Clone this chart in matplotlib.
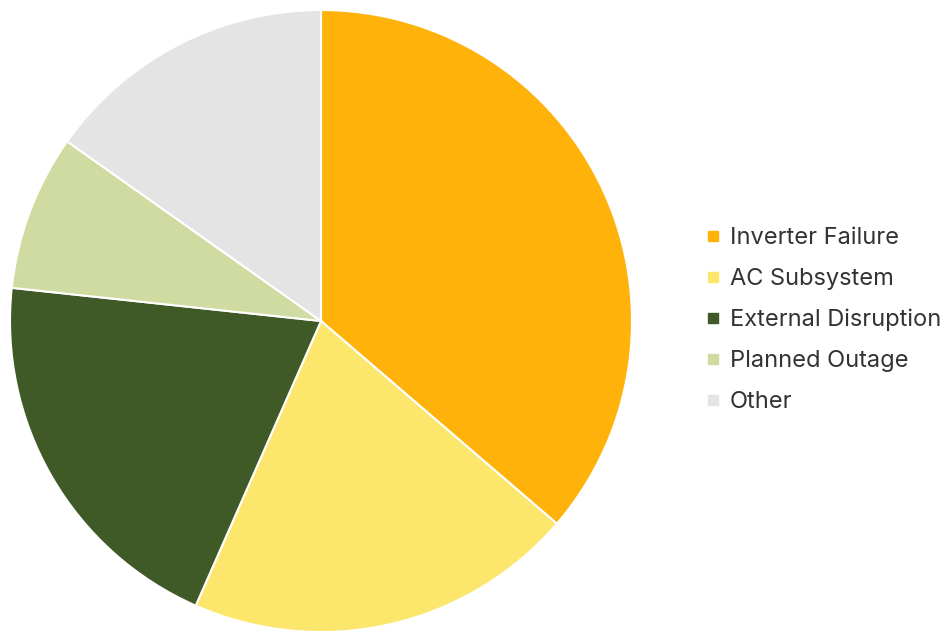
import matplotlib.pyplot as plt
from matplotlib.lines import Line2D

labels = ["Inverter Failure", "AC Subsystem", "External Disruption", "Planned Outage", "Other"]
values = [36.3, 20.3, 20.1, 8.1, 15.2]
colors = ["#FFB20A", "#FCE76C", "#3F5A27", "#CFDBA0", "#E4E4E4"]

plt.rcParams["font.family"] = ["Inter", "DejaVu Sans"]

fig = plt.figure(figsize=(9.53, 6.32), dpi=100)
ax = fig.add_axes([10 / 953, 0, 622 / 953, 622 / 632])
ax.pie(values, colors=colors, startangle=90, counterclock=False, radius=1,
       wedgeprops=dict(edgecolor="white", linewidth=1.5))
ax.set_xlim(-1, 1)
ax.set_ylim(-1, 1)
ax.set_aspect("equal")
ax.axis("off")

handles = [Line2D([], [], marker="s", linestyle="", markersize=7,
                  markerfacecolor=c, markeredgecolor=c) for c in colors]
fig.legend(handles, labels, loc="center left", bbox_to_anchor=(698 / 953, 1 - 320 / 632),
           frameon=False, fontsize=17, labelcolor="#333333", handlelength=0.5,
           handletextpad=0.45, labelspacing=0.8, borderaxespad=0)

fig.savefig("out.png", dpi=100, facecolor="white")
